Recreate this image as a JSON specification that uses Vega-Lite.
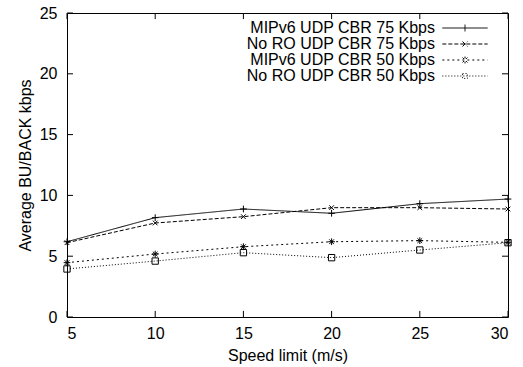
{
  "$schema": "https://vega.github.io/schema/vega-lite/v6.json",
  "autosize": "none",
  "width": 441,
  "height": 304,
  "padding": {"left": 67, "top": 13, "right": 15, "bottom": 50},
  "background": "white",
  "config": {
    "font": "Liberation Sans",
    "view": {"stroke": "black", "strokeWidth": 1},
    "axis": {"grid": false, "domain": false, "ticks": false, "labelColor": "black", "labelFontSize": 16, "titleFontSize": 16, "titleFontWeight": "normal", "titleColor": "black", "labelFont": "Liberation Sans", "titleFont": "Liberation Sans"}
  },
  "datasets": {
    "main": [
      {"speed": 5, "v": 6.19, "s": "MIPv6 UDP CBR 75 Kbps"},
      {"speed": 10, "v": 8.17, "s": "MIPv6 UDP CBR 75 Kbps"},
      {"speed": 15, "v": 8.88, "s": "MIPv6 UDP CBR 75 Kbps"},
      {"speed": 20, "v": 8.53, "s": "MIPv6 UDP CBR 75 Kbps"},
      {"speed": 25, "v": 9.32, "s": "MIPv6 UDP CBR 75 Kbps"},
      {"speed": 30, "v": 9.70, "s": "MIPv6 UDP CBR 75 Kbps"},
      {"speed": 5, "v": 6.11, "s": "No RO UDP CBR 75 Kbps"},
      {"speed": 10, "v": 7.73, "s": "No RO UDP CBR 75 Kbps"},
      {"speed": 15, "v": 8.25, "s": "No RO UDP CBR 75 Kbps"},
      {"speed": 20, "v": 8.99, "s": "No RO UDP CBR 75 Kbps"},
      {"speed": 25, "v": 8.99, "s": "No RO UDP CBR 75 Kbps"},
      {"speed": 30, "v": 8.88, "s": "No RO UDP CBR 75 Kbps"},
      {"speed": 5, "v": 4.47, "s": "MIPv6 UDP CBR 50 Kbps"},
      {"speed": 10, "v": 5.18, "s": "MIPv6 UDP CBR 50 Kbps"},
      {"speed": 15, "v": 5.78, "s": "MIPv6 UDP CBR 50 Kbps"},
      {"speed": 20, "v": 6.19, "s": "MIPv6 UDP CBR 50 Kbps"},
      {"speed": 25, "v": 6.28, "s": "MIPv6 UDP CBR 50 Kbps"},
      {"speed": 30, "v": 6.14, "s": "MIPv6 UDP CBR 50 Kbps"},
      {"speed": 5, "v": 3.95, "s": "No RO UDP CBR 50 Kbps"},
      {"speed": 10, "v": 4.60, "s": "No RO UDP CBR 50 Kbps"},
      {"speed": 15, "v": 5.29, "s": "No RO UDP CBR 50 Kbps"},
      {"speed": 20, "v": 4.88, "s": "No RO UDP CBR 50 Kbps"},
      {"speed": 25, "v": 5.51, "s": "No RO UDP CBR 50 Kbps"},
      {"speed": 30, "v": 6.11, "s": "No RO UDP CBR 50 Kbps"}
    ],
    "xt": [{"t": 5}, {"t": 10}, {"t": 15}, {"t": 20}, {"t": 25}, {"t": 30}],
    "yt": [{"t": 0}, {"t": 5}, {"t": 10}, {"t": 15}, {"t": 20}, {"t": 25}]
  },
  "data": {"name": "main"},
  "layer": [
    {
      "mark": {"type": "line", "color": "black", "strokeWidth": 1},
      "encoding": {
        "x": {"field": "speed", "type": "quantitative", "scale": {"domain": [5, 30], "nice": false, "zero": false},
          "axis": {"orient": "bottom", "title": "Speed limit (m/s)", "values": [5, 10, 15, 20, 25, 30], "labelPadding": 8, "titlePadding": 6}},
        "y": {"field": "v", "type": "quantitative", "scale": {"domain": [0, 25], "nice": false},
          "axis": {"orient": "left", "title": "Average BU/BACK kbps", "values": [0, 5, 10, 15, 20, 25], "labelPadding": 10, "titlePadding": 6}},
        "strokeDash": {"field": "s", "type": "nominal",
          "scale": {"domain": ["MIPv6 UDP CBR 75 Kbps", "No RO UDP CBR 75 Kbps", "MIPv6 UDP CBR 50 Kbps", "No RO UDP CBR 50 Kbps"],
            "range": [[1, 0], [4, 2], [2, 3], [1, 2]]},
          "legend": {"title": null, "orient": "none", "legendX": 183, "legendY": 7, "padding": 0, "symbolType": "M-3.7,0L3.7,0", "symbolSize": 150, "symbolStrokeWidth": 1, "symbolStrokeColor": "black", "labelFontSize": 16, "labelColor": "black", "labelLimit": 0, "rowPadding": 0, "labelFont": "Liberation Sans", "symbolOffset": 0,
            "encode": {
              "labels": {"update": {"x": {"value": 185}, "align": {"value": "right"}}},
              "symbols": {"update": {"x": {"value": 215}, "shape": {"signal": "datum.index === 0 ? 'M-3.7,0L3.7,0M0,-0.56L0,0.56' : datum.index === 1 ? 'M-3.7,0L3.7,0M-0.4,-0.4L0.4,0.4M-0.4,0.4L0.4,-0.4' : datum.index === 2 ? 'M-3.7,0L3.7,0M0,-0.56L0,0.56M-0.4,-0.4L0.4,0.4M-0.4,0.4L0.4,-0.4' : 'M-3.7,0L3.7,0M-0.4,-0.4L0.4,-0.4L0.4,0.4L-0.4,0.4Z'"}}}
            }}
        }
      }
    },
    {
      "transform": [{"filter": "datum.s === 'MIPv6 UDP CBR 75 Kbps'"}],
      "mark": {"type": "point", "filled": false, "color": "black", "strokeWidth": 1, "size": 45, "opacity": 1, "shape": "M-1,0L1,0M0,-1L0,1"},
      "encoding": {"x": {"field": "speed", "type": "quantitative"}, "y": {"field": "v", "type": "quantitative"}}
    },
    {
      "transform": [{"filter": "datum.s === 'No RO UDP CBR 75 Kbps'"}],
      "mark": {"type": "point", "filled": false, "color": "black", "strokeWidth": 1, "size": 45, "opacity": 1, "shape": "M-0.7,-0.7L0.7,0.7M-0.7,0.7L0.7,-0.7"},
      "encoding": {"x": {"field": "speed", "type": "quantitative"}, "y": {"field": "v", "type": "quantitative"}}
    },
    {
      "transform": [{"filter": "datum.s === 'MIPv6 UDP CBR 50 Kbps'"}],
      "mark": {"type": "point", "filled": false, "color": "black", "strokeWidth": 1, "size": 45, "opacity": 1, "shape": "M-1,0L1,0M0,-1L0,1M-0.7,-0.7L0.7,0.7M-0.7,0.7L0.7,-0.7"},
      "encoding": {"x": {"field": "speed", "type": "quantitative"}, "y": {"field": "v", "type": "quantitative"}}
    },
    {
      "transform": [{"filter": "datum.s === 'No RO UDP CBR 50 Kbps'"}],
      "mark": {"type": "point", "filled": false, "color": "black", "strokeWidth": 1, "size": 40, "opacity": 1, "shape": "square"},
      "encoding": {"x": {"field": "speed", "type": "quantitative"}, "y": {"field": "v", "type": "quantitative"}}
    },
    {
      "data": {"name": "xt"},
      "mark": {"type": "rule", "color": "black", "strokeWidth": 1},
      "encoding": {"x": {"field": "t", "type": "quantitative"}, "y": {"datum": 0, "type": "quantitative"}, "y2": {"datum": 0.5}}
    },
    {
      "data": {"name": "xt"},
      "mark": {"type": "rule", "color": "black", "strokeWidth": 1},
      "encoding": {"x": {"field": "t", "type": "quantitative"}, "y": {"datum": 25, "type": "quantitative"}, "y2": {"datum": 24.5}}
    },
    {
      "data": {"name": "yt"},
      "mark": {"type": "rule", "color": "black", "strokeWidth": 1},
      "encoding": {"y": {"field": "t", "type": "quantitative"}, "x": {"datum": 5, "type": "quantitative"}, "x2": {"datum": 5.34}}
    },
    {
      "data": {"name": "yt"},
      "mark": {"type": "rule", "color": "black", "strokeWidth": 1},
      "encoding": {"y": {"field": "t", "type": "quantitative"}, "x": {"datum": 30, "type": "quantitative"}, "x2": {"datum": 29.66}}
    }
  ]
}
